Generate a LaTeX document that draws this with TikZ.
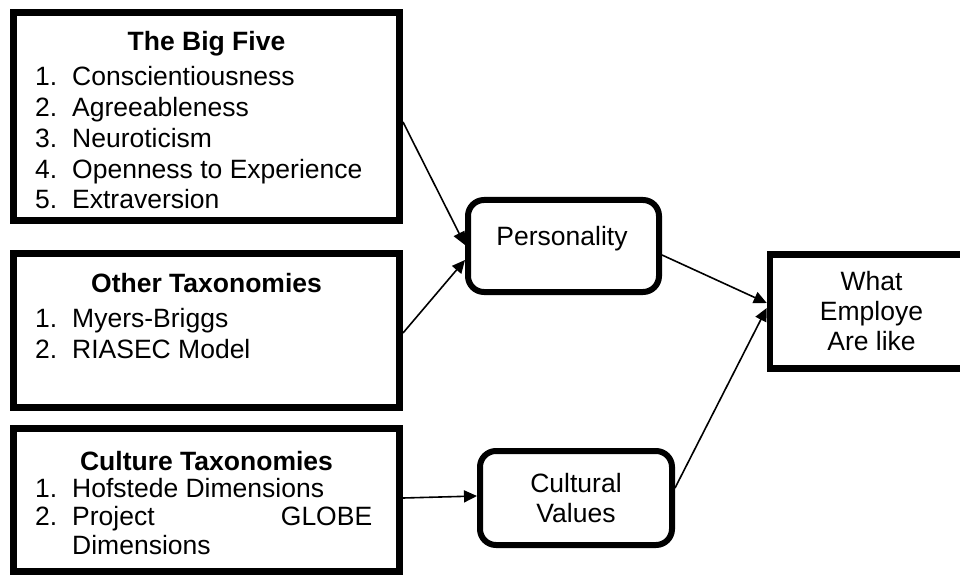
\documentclass[tikz,border=0pt]{standalone}
\usepackage{fontspec}
\setmainfont{Liberation Sans}
\usetikzlibrary{arrows.meta}

\tikzset{
  listbox/.style={draw, line width=7pt, rectangle, inner sep=0pt},
  roundbox/.style={draw, line width=6pt, rounded corners=16pt, inner sep=0pt, align=center},
  head/.style={anchor=base, inner sep=0pt},
  item/.style={anchor=base west, inner sep=0pt},
  link/.style={-{Triangle[length=13pt,width=12pt]}, line width=1.6pt},
}
\newcommand{\itemno}[1]{\makebox[37pt][l]{#1}}

\begin{document}
\begin{tikzpicture}[x=1pt, y=-1pt, font=\fontsize{26.5}{30}\selectfont]

        % Page frame
        \useasboundingbox (0,0) rectangle (960,577);

        % The Big Five
        \node[listbox, minimum width=386pt, minimum height=208pt] (bigfive) at (206.5,116.5) {};
        \node[head] (bigfivehead) at (206.5,51) {\bfseries The Big Five};
        \node[item] (bf1) at (35,86) {\itemno{1.}Conscientiousness};
        \node[item] (bf2) at (35,117) {\itemno{2.}Agreeableness};
        \node[item] (bf3) at (35,148) {\itemno{3.}Neuroticism};
        \node[item] (bf4) at (35,179) {\itemno{4.}Openness to Experience};
        \node[item] (bf5) at (35,209) {\itemno{5.}Extraversion};

        % Other taxonomies
        \node[listbox, minimum width=386pt, minimum height=154pt] (other) at (206.5,330.5) {};
        \node[head] (otherhead) at (206.5,292) {\bfseries Other Taxonomies};
        \node[item] (ot1) at (35,327) {\itemno{1.}Myers-Briggs};
        \node[item] (ot2) at (35,358) {\itemno{2.}RIASEC Model};

        % Culture taxonomies
        \node[listbox, minimum width=386pt, minimum height=143pt] (culture) at (206.5,500) {};
        \node[head] (culturehead) at (206.5,470) {\bfseries Culture Taxonomies};
        \node[item] (ct1) at (35,497) {\itemno{1.}Hofstede Dimensions};
        \node[item] (ct2) at (35,525) {\itemno{2.}\makebox[300pt][l]{Project\hfill GLOBE}};
        \node[item] (ct2b) at (72,554) {Dimensions};

        % Middle boxes
        \node[roundbox, minimum width=191pt, minimum height=92pt] (pers) at (563.5,246) {};
        \node[head] (perstext) at (562,245) {Personality};
        \node[roundbox, minimum width=192pt, minimum height=94pt] (cult) at (576,498) {Cultural\\Values};

        % Right box (runs past the page edge)
        \node[listbox, line width=6.5pt, minimum width=203pt, minimum height=114pt, align=center] (what) at (871.5,311.5) {What\\Employe\\Are like};

        % Arrows
        \draw[link] ([yshift=-5.5pt]bigfive.east) -- ([yshift=1pt]pers.west);
        \draw[link] ([yshift=-2.5pt]other.east) -- ([yshift=-14pt]pers.west);
        \draw[link] ([yshift=2pt]culture.east) -- ([yshift=2pt]cult.west);
        \draw[link] ([yshift=-9pt]pers.east) -- ([yshift=8.5pt]what.west);
        \draw[link] ([yshift=10pt]cult.east) -- ([yshift=3.5pt]what.west);
\end{tikzpicture}
\end{document}
